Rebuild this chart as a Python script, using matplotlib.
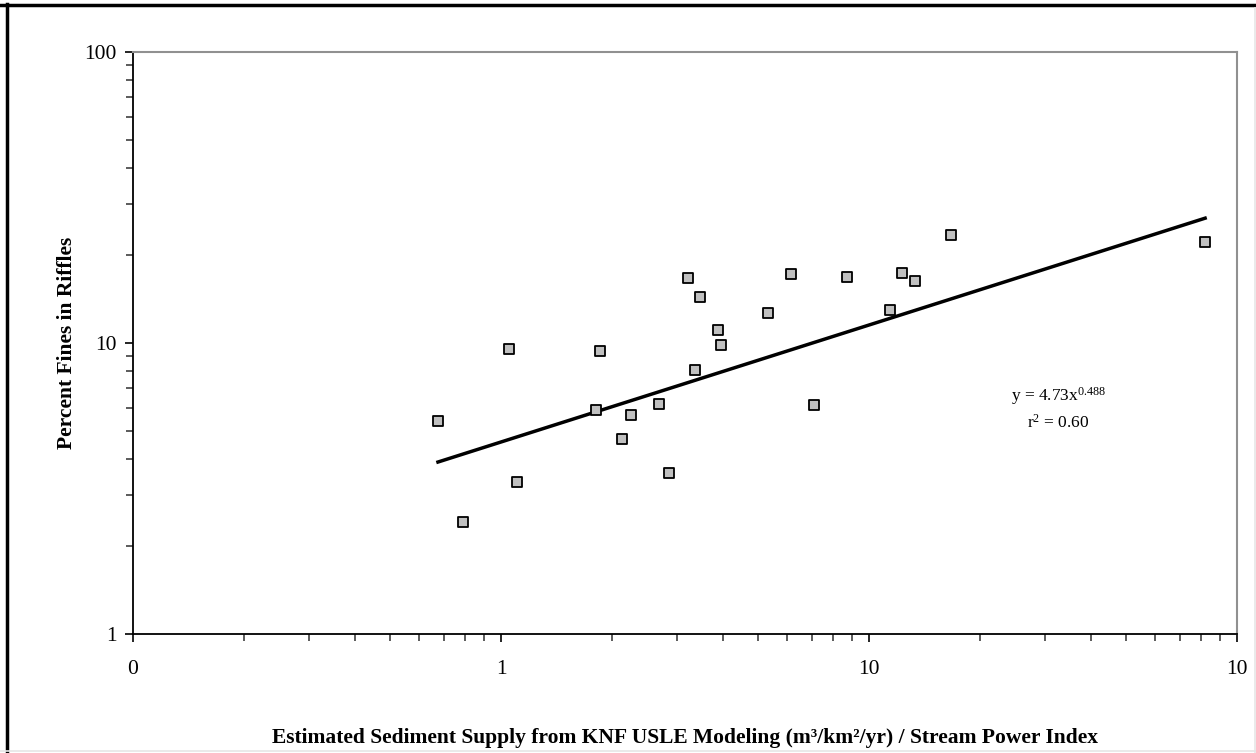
import numpy as np
import matplotlib.pyplot as plt
from matplotlib.lines import Line2D

# values (log-log axes)
supply_index = [0.674, 0.788, 1.05, 1.105, 1.81, 1.86, 2.13, 2.26, 2.69, 2.86,
                3.22, 3.37, 3.47, 3.89, 3.96, 5.32, 6.14, 7.09, 8.71, 11.4,
                12.3, 13.3, 16.7, 81.9]
percent_fines = [5.40, 2.43, 9.53, 3.33, 5.89, 9.39, 4.68, 5.66, 6.17, 3.57,
                 16.7, 8.08, 14.4, 11.1, 9.84, 12.7, 17.3, 6.12, 16.9, 13.0,
                 17.4, 16.3, 23.5, 22.2]

# trend line as drawn in the reference (coefficient, exponent)
trend_coef = 4.57
trend_exp = 0.402

x_ticks = [0.1, 1, 10, 100]
x_tick_labels = ['0', '1', '10', '10']
y_ticks = [1, 10, 100]
y_tick_labels = ['1', '10', '100']

plt.rcParams['font.family'] = ['Liberation Serif', 'DejaVu Serif']
plt.rcParams['mathtext.fontset'] = 'custom'
plt.rcParams['mathtext.rm'] = 'Liberation Serif'
plt.rcParams['mathtext.it'] = 'Liberation Serif:italic'
plt.rcParams['mathtext.bf'] = 'Liberation Serif:bold'

fig = plt.figure(figsize=(12.56, 7.53), dpi=100)
ax = fig.add_axes([0.1059, 0.158, 0.879, 0.7729])

ax.scatter(supply_index, percent_fines, marker='s', s=55, facecolor='#c0c0c0',
           edgecolor='black', linewidth=1.3, zorder=3)

xs = np.logspace(np.log10(min(supply_index)), np.log10(max(supply_index)), 50)
ax.plot(xs, trend_coef * xs ** trend_exp, color='black', linewidth=2.5, zorder=2)

ax.set_xscale('log')
ax.set_yscale('log')
ax.set_xlim(0.1, 100)
ax.set_ylim(1, 100)
ax.set_xticks(x_ticks)
ax.set_xticklabels(x_tick_labels)
ax.set_yticks(y_ticks)
ax.set_yticklabels(y_tick_labels)
ax.tick_params(which='both', direction='out', length=6, width=1.2, labelsize=15.5)
ax.tick_params(axis='x', which='major', pad=13)
ax.tick_params(axis='y', which='major', pad=6)
ax.tick_params(which='minor', length=5, color='#404040')

for side in ['top', 'right']:
    ax.spines[side].set_color('#909090')
    ax.spines[side].set_linewidth(1.5)
for side in ['left', 'bottom']:
    ax.spines[side].set_linewidth(1.3)

ax.set_xlabel('Estimated Sediment Supply from KNF USLE Modeling (m³/km²/yr) / Stream Power Index',
              fontsize=15.5, fontweight='bold', labelpad=35)
ax.set_ylabel('Percent Fines in Riffles', fontsize=15.5, fontweight='bold', labelpad=5)

ax.text(0.838, 0.3875, 'y = 4.73x$^{\\mathrm{0.488}}$\nr$^{\\mathrm{2}}$ = 0.60', transform=ax.transAxes,
        ha='center', va='center', fontsize=12.5, linespacing=1.5)

# outer chart frame: black on left/top, faint grey on right/bottom
fig.add_artist(Line2D([0.0055, 0.0055], [0.0, 0.9947], transform=fig.transFigure,
                      color='black', linewidth=2.5))
fig.add_artist(Line2D([0.0, 1.0], [0.9934, 0.9934], transform=fig.transFigure,
                      color='black', linewidth=2.5))
fig.add_artist(Line2D([0.9992, 0.9992], [0.0, 0.99], transform=fig.transFigure,
                      color='#e6e6e6', linewidth=1.2))
fig.add_artist(Line2D([0.0, 1.0], [0.0027, 0.0027], transform=fig.transFigure,
                      color='#e6e6e6', linewidth=1.2))

fig.savefig('out.png', dpi=100)
